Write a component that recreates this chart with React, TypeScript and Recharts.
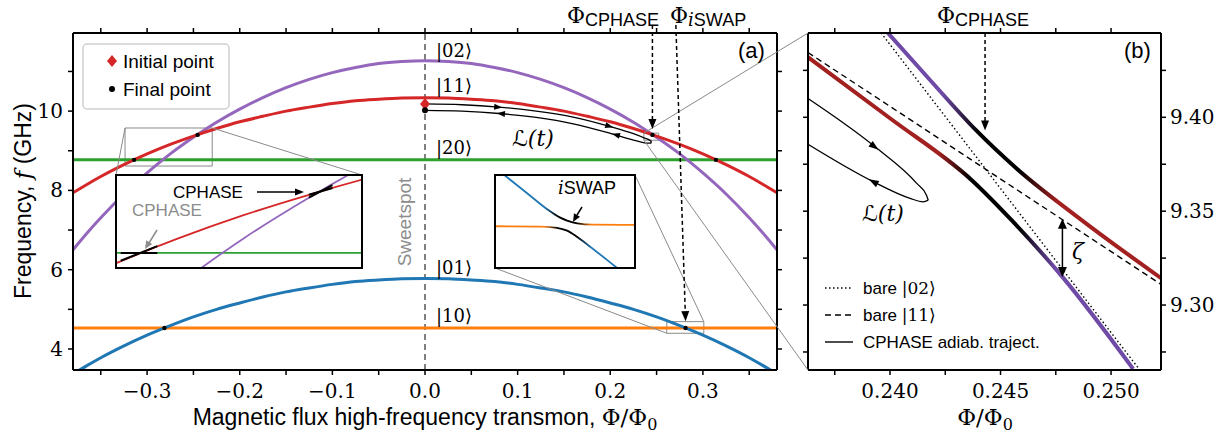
import React from 'react';
import { LineChart, Line, XAxis, YAxis, ReferenceLine, ReferenceArea, ReferenceDot } from 'recharts';

const SERIF = '"DejaVu Serif", "DejaVu Sans", serif';
const SANS = '"Liberation Sans", Arial, Helvetica, sans-serif';

const C = {
  red: '#d62728', purple: '#9467bd', green: '#2ca02c', blue: '#1f77b4', orange: '#ff7f0e',
  bRed: '#a32020', bPurple: '#6f4aa6', gray: '#8a8a8a',
};

// ---------- panel (a): levels vs flux (GHz) ----------
const flux = [-0.38, -0.365, -0.35, -0.325, -0.3, -0.275, -0.25, -0.225, -0.2, -0.175, -0.15, -0.125, -0.1, -0.075, -0.05, -0.025, 0,
  0.025, 0.05, 0.075, 0.1, 0.125, 0.15, 0.175, 0.2, 0.225, 0.25, 0.275, 0.3, 0.325, 0.35, 0.365, 0.38];
const level02 = [6.50, 6.92, 7.31, 7.91, 8.44, 8.92, 9.34, 9.72, 10.05, 10.34, 10.59, 10.80, 10.97, 11.10, 11.20, 11.25, 11.27,
  11.25, 11.20, 11.10, 10.97, 10.80, 10.59, 10.34, 10.05, 9.72, 9.34, 8.92, 8.44, 7.91, 7.31, 6.92, 6.50];
const level11 = [7.94, 8.15, 8.35, 8.65, 8.92, 9.16, 9.37, 9.56, 9.73, 9.87, 10.00, 10.10, 10.19, 10.26, 10.30, 10.33, 10.34,
  10.33, 10.30, 10.26, 10.19, 10.10, 10.00, 9.87, 9.73, 9.56, 9.37, 9.16, 8.92, 8.65, 8.35, 8.15, 7.94];
const level01 = [3.37, 3.58, 3.78, 4.08, 4.35, 4.59, 4.81, 5.00, 5.16, 5.31, 5.44, 5.54, 5.63, 5.70, 5.74, 5.77, 5.78,
  5.77, 5.74, 5.70, 5.63, 5.54, 5.44, 5.31, 5.16, 5.00, 4.81, 4.59, 4.35, 4.08, 3.78, 3.58, 3.37];
const fluxEnds = [-0.38, 0.38];
const level20 = [8.77, 8.77];
const level10 = [4.53, 4.53];

// trajectory L(t)
const trajOutFlux = [0, 0.04, 0.08, 0.12, 0.16, 0.2, 0.225, 0.237, 0.2435, 0.2445];
const trajOutFreq = [10.18, 10.16, 10.10, 10.00, 9.85, 9.61, 9.43, 9.32, 9.25, 9.215];
const trajBackFlux = [0, 0.04, 0.08, 0.12, 0.16, 0.2, 0.225, 0.237, 0.243, 0.2445];
const trajBackFreq = [10.02, 10.00, 9.94, 9.84, 9.68, 9.44, 9.27, 9.20, 9.19, 9.215];
const initialPoint = { x: 0, y: 10.18 };
const finalPoint = { x: 0, y: 10.02 };
const crossings = [
  { x: -0.2455, y: 9.40 }, { x: 0.2455, y: 9.40 }, { x: -0.314, y: 8.77 }, { x: 0.314, y: 8.77 },
  { x: -0.2813, y: 4.53 }, { x: 0.2813, y: 4.53 },
];

// left inset (CPHASE crossings, negative flux)
const insetLX = [-0.3238, -0.2297];
const insetLY = [8.615, 9.574];
const cphaseRedFlux = [-0.250, -0.241];
const cphaseRedFreq = [9.37, 9.44];
const cphasePurFlux = [-0.250, -0.241];
const cphasePurFreq = [9.34, 9.47];
const cphase2GreenFlux = [-0.322, -0.308];
const cphase2GreenFreq = [8.77, 8.77];
const cphase2RedFlux = [-0.322, -0.308];
const cphase2RedFreq = [8.69, 8.84];

// right inset (iSWAP avoided crossing)
const insetRX = [0.261, 0.301];
const insetRY = [4.396, 4.69];
const iswapUpFlux = [0.260, 0.270, 0.276, 0.2795, 0.2816, 0.2845, 0.289, 0.302];
const iswapUpFreq = [4.722, 4.634, 4.581, 4.556, 4.546, 4.537, 4.533, 4.532];
const iswapLowFlux = [0.260, 0.274, 0.2787, 0.2816, 0.2845, 0.288, 0.295, 0.302];
const iswapLowFreq = [4.528, 4.527, 4.523, 4.514, 4.494, 4.465, 4.404, 4.342];

// ---------- panel (b): zoom on CPHASE ----------
const bX = [0.23629, 0.25226];
const bY = [9.2654, 9.4449];
const upperFlux = [0.2399, 0.2418, 0.2439, 0.2457, 0.2487, 0.2523];
const upperFreq = [9.445, 9.420, 9.393, 9.373, 9.345, 9.314];
const lowerFlux = [0.23629, 0.2400, 0.2437, 0.2455, 0.2478, 0.2510];
const lowerFreq = [9.432, 9.3995, 9.3665, 9.3452, 9.315, 9.266];
const bare02Flux = [0.2396, 0.2513];
const bare02Freq = [9.4449, 9.2654];
const bare11Flux = [0.23629, 0.25226];
const bare11Freq = [9.4345, 9.311];
const loopOutFlux = [0.23629, 0.23932, 0.24121, 0.24165, 0.24173];
const loopOutFreq = [9.4100, 9.3843, 9.3648, 9.3585, 9.3559];
const loopBackFlux = [0.23629, 0.23924, 0.24091, 0.24150, 0.24173];
const loopBackFreq = [9.3856, 9.3657, 9.3568, 9.3550, 9.3559];

const fluxTicks = [-0.35, -0.3, -0.25, -0.2, -0.15, -0.1, -0.05, 0, 0.05, 0.1, 0.15, 0.2, 0.25, 0.3, 0.35];
const freqTicks = [4, 5, 6, 7, 8, 9, 10, 11];
const bFluxTicks = [0.2375, 0.24, 0.2425, 0.245, 0.2475, 0.25];
const bFreqTicks = [9.275, 9.3, 9.325, 9.35, 9.375, 9.4, 9.425];

const AX = [-0.38, 0.38];
const AY = [3.47, 11.97];

const pts = (xs: number[], ys: number[]) => xs.map((x, i) => ({ x, y: ys[i] }));

// pixel helpers for annotations (plot boxes of both panels)
const pxA = (x: number) => 73 + (x - AX[0]) / (AX[1] - AX[0]) * 704;
const pyA = (y: number) => 33 + (AY[1] - y) / (AY[1] - AY[0]) * 337;
const pxB = (x: number) => 808 + (x - bX[0]) / (bX[1] - bX[0]) * 353;
const pyB = (y: number) => 33 + (bY[1] - y) / (bY[1] - bY[0]) * 337;

const INL = { left: 116, top: 175, w: 246, h: 93 };
const INR = { left: 495, top: 175, w: 140, h: 93 };

const fmtFlux = (v: number) => {
  const r = Math.round(v * 100);
  if (r % 10 !== 0) return '';
  return (r < 0 ? '\u2212' : '') + Math.abs(v).toFixed(1);
};
const fmtFreq = (v: number) => (v % 2 === 0 ? String(v) : '');
const fmtB = (v: number) => (Math.round(v * 10000) % 50 === 0 ? v.toFixed(3) : '');
const fmtBF = (v: number) => (Math.round(v * 1000) % 50 === 0 ? v.toFixed(2) : '');
const blank = () => '';

const tickFont = { fill: '#000', fontSize: 20, fontFamily: SERIF };
const frame = { stroke: '#000', strokeWidth: 2 };
const tickLn = { stroke: '#000', strokeWidth: 1.5 };

function Head({ x, y, angle, len = 10, wid = 8, fill = '#000' }: any) {
  const a = (angle * Math.PI) / 180;
  const c = Math.cos(a);
  const s = Math.sin(a);
  const bx = x - len * c;
  const by = y - len * s;
  const p = `${x},${y} ${bx - (wid / 2) * s},${by + (wid / 2) * c} ${bx + (wid / 2) * s},${by - (wid / 2) * c}`;
  return <polygon points={p} fill={fill} />;
}

const midArrow = (angle: number, len = 8, wid = 6) => (p: any) => {
  const a = (angle * Math.PI) / 180;
  return <Head x={p.cx + (len / 2) * Math.cos(a)} y={p.cy + (len / 2) * Math.sin(a)} angle={angle} len={len} wid={wid} />;
};

const diamond = (p: any) => (
  <polygon points={`${p.cx},${p.cy - 6} ${p.cx + 5},${p.cy} ${p.cx},${p.cy + 6} ${p.cx - 5},${p.cy}`} fill={C.red} />
);

const line = (data: any, stroke: string, width: number, extra: any = {}) => (
  <Line data={data} dataKey="y" type="monotone" stroke={stroke} strokeWidth={width} dot={false} activeDot={false}
    isAnimationActive={false} {...extra} />
);

function MainPanel() {
  return (
    <LineChart width={800} height={436} margin={{ top: 23, right: 13, bottom: 26, left: 13 }}>
      <XAxis type="number" dataKey="x" domain={AX} allowDataOverflow ticks={fluxTicks} interval={0} tickFormatter={fmtFlux}
        tick={tickFont} tickSize={5} tickMargin={9} height={40} axisLine={frame} tickLine={tickLn} />
      <XAxis xAxisId="top" orientation="top" type="number" dataKey="x" domain={AX} allowDataOverflow ticks={fluxTicks}
        interval={0} tickFormatter={blank} tick={tickFont} tickSize={5} height={10} axisLine={frame} tickLine={tickLn} />
      <YAxis type="number" domain={AY} allowDataOverflow ticks={freqTicks} interval={0} tickFormatter={fmtFreq} tick={tickFont}
        tickSize={5} tickMargin={5} width={60} axisLine={frame} tickLine={tickLn} />
      <YAxis yAxisId="right" orientation="right" type="number" domain={AY} allowDataOverflow ticks={freqTicks} interval={0}
        tickFormatter={blank} tick={tickFont} tickSize={5} width={10} axisLine={frame} tickLine={tickLn} />
      <ReferenceLine x={0} stroke="#808080" strokeWidth={2} strokeDasharray="6 4" />
      {line(pts(fluxEnds, level20), C.green, 3)}
      {line(pts(fluxEnds, level10), C.orange, 3)}
      {line(pts(flux, level01), C.blue, 3)}
      {line(pts(flux, level02), C.purple, 3)}
      {line(pts(flux, level11), C.red, 3)}
      {crossings.map((c, i) => (
        <ReferenceDot key={i} x={c.x} y={c.y} r={2.2} fill="#000" stroke="none" />
      ))}
      {line(pts(trajOutFlux, trajOutFreq), '#000', 1.3)}
      {line(pts(trajBackFlux, trajBackFreq), '#000', 1.3)}
      <ReferenceDot x={0.079} y={10.10} r={1} shape={midArrow(5)} />
      <ReferenceDot x={0.199} y={9.62} r={1} shape={midArrow(15)} />
      <ReferenceDot x={0.082} y={9.935} r={1} shape={midArrow(185)} />
      <ReferenceDot x={0.206} y={9.40} r={1} shape={midArrow(195)} />
      <ReferenceDot x={initialPoint.x} y={initialPoint.y} r={6} shape={diamond} />
      <ReferenceDot x={finalPoint.x} y={finalPoint.y} r={3} fill="#000" stroke="none" />
      <ReferenceArea x1={insetLX[0]} x2={insetLX[1]} y1={insetLY[0]} y2={insetLY[1]} fill="none" stroke={C.gray} strokeWidth={1} />
      <ReferenceArea x1={insetRX[0]} x2={insetRX[1]} y1={insetRY[0]} y2={insetRY[1]} fill="none" stroke={C.gray} strokeWidth={1} />
      <ReferenceArea x1={bX[0]} x2={bX[1]} y1={bY[0]} y2={bY[1]} fill="none" stroke={C.gray} strokeWidth={1} />
    </LineChart>
  );
}

function InsetLeft() {
  return (
    <LineChart width={INL.w} height={INL.h} margin={{ top: 0, right: 0, bottom: 0, left: 0 }}>
      <XAxis hide type="number" dataKey="x" domain={insetLX} allowDataOverflow />
      <YAxis hide type="number" domain={insetLY} allowDataOverflow />
      {line(pts(fluxEnds, level20), C.green, 1.8)}
      {line(pts(flux, level02), C.purple, 1.8)}
      {line(pts(flux, level11), C.red, 1.8)}
      {line(pts(cphaseRedFlux, cphaseRedFreq), '#000', 2, { type: 'linear' })}
      {line(pts(cphasePurFlux, cphasePurFreq), '#000', 2, { type: 'linear' })}
      {line(pts(cphase2GreenFlux, cphase2GreenFreq), '#000', 2, { type: 'linear' })}
      {line(pts(cphase2RedFlux, cphase2RedFreq), '#000', 2, { type: 'linear' })}
    </LineChart>
  );
}

function InsetRight() {
  return (
    <LineChart width={INR.w} height={INR.h} margin={{ top: 0, right: 0, bottom: 0, left: 0 }}>
      <XAxis hide type="number" dataKey="x" domain={insetRX} allowDataOverflow />
      <YAxis hide type="number" domain={insetRY} allowDataOverflow />
      {line(pts(iswapUpFlux, iswapUpFreq), 'url(#gUpR)', 1.8)}
      {line(pts(iswapLowFlux, iswapLowFreq), 'url(#gLowR)', 1.8)}
    </LineChart>
  );
}

function ZoomPanel() {
  return (
    <LineChart width={431} height={436} margin={{ top: 23, right: 10, bottom: 26, left: 0 }}>
      <XAxis type="number" dataKey="x" domain={bX} allowDataOverflow ticks={bFluxTicks} interval={0} tickFormatter={fmtB}
        tick={tickFont} tickSize={5} tickMargin={9} height={40} axisLine={frame} tickLine={tickLn} />
      <XAxis xAxisId="top" orientation="top" type="number" dataKey="x" domain={bX} allowDataOverflow ticks={bFluxTicks}
        interval={0} tickFormatter={blank} tick={tickFont} tickSize={5} height={10} axisLine={frame} tickLine={tickLn} />
      <YAxis type="number" domain={bY} allowDataOverflow ticks={bFreqTicks} interval={0} tickFormatter={blank} tick={tickFont}
        tickSize={5} width={8} axisLine={frame} tickLine={tickLn} />
      <YAxis yAxisId="r" orientation="right" type="number" domain={bY} allowDataOverflow ticks={bFreqTicks} interval={0}
        tickFormatter={fmtBF} tick={tickFont} tickSize={5} tickMargin={4} width={60} axisLine={frame} tickLine={tickLn} />
      {line(pts(bare02Flux, bare02Freq), '#000', 1.4, { type: 'linear', strokeDasharray: '1.5 2.5' })}
      {line(pts(bare11Flux, bare11Freq), '#000', 1.4, { type: 'linear', strokeDasharray: '6 4' })}
      {line(pts(upperFlux, upperFreq), 'url(#gUpB)', 4)}
      {line(pts(lowerFlux, lowerFreq), 'url(#gLowB)', 4)}
      {line(pts(loopOutFlux, loopOutFreq), '#000', 1.3)}
      {line(pts(loopBackFlux, loopBackFreq), '#000', 1.3)}
      <ReferenceDot x={0.2393} y={9.3843} r={1} shape={midArrow(38, 10, 7)} />
      <ReferenceDot x={0.23924} y={9.3657} r={1} shape={midArrow(208, 10, 7)} />
    </LineChart>
  );
}

function Overlay() {
  const xc = pxA(0.2455);
  const ycTip = pyA(9.55);
  const xiTop = pxA(0.2708);
  const xiTip = pxA(0.2813);
  const yiTip = pyA(4.70);
  const iAng = (Math.atan2(yiTip - 24, xiTip - xiTop) * 180) / Math.PI;
  const xbC = pxB(0.2443);
  const ybTip = pyB(9.393);
  const xz = pxB(0.2478);
  const yz1 = pyB(9.346);
  const yz2 = pyB(9.315);
  const lx = pxA(0) + 11;
  return (
    <svg width={1231} height={436} style={{ position: 'absolute', left: 0, top: 0, pointerEvents: 'none' }}>
      {/* inset connectors */}
      <g stroke={C.gray} strokeWidth={1}>
        <line x1={pxA(insetLX[0])} y1={pyA(insetLY[1])} x2={INL.left} y2={INL.top} />
        <line x1={pxA(insetLX[1])} y1={pyA(insetLY[1])} x2={INL.left + INL.w} y2={INL.top} />
        <line x1={pxA(insetRX[0])} y1={pyA(insetRY[0])} x2={INR.left} y2={INR.top + INR.h} />
        <line x1={pxA(insetRX[1])} y1={pyA(insetRY[1])} x2={INR.left + INR.w} y2={INR.top} />
        <line x1={pxA(bX[0])} y1={pyA(bY[1])} x2={808} y2={33} />
        <line x1={pxA(bX[0])} y1={pyA(bY[0])} x2={808} y2={370} />
      </g>
      <rect x={INL.left} y={INL.top} width={INL.w} height={INL.h} fill="none" stroke="#000" strokeWidth={2} />
      <rect x={INR.left} y={INR.top} width={INR.w} height={INR.h} fill="none" stroke="#000" strokeWidth={2} />

      {/* legend (a) */}
      <rect x={83} y={44} width={146} height={65} rx={4} fill="#fff" fillOpacity={0.85} stroke="#cfcfcf" strokeWidth={1.5} />
      <polygon points="112,55 117,61 112,67 107,61" fill={C.red} />
      <circle cx={112} cy={89} r={3} fill="#000" />
      <text x={123} y={68} fontFamily={SANS} fontSize={19}>Initial point</text>
      <text x={123} y={96} fontFamily={SANS} fontSize={19}>Final point</text>

      {/* state labels */}
      <g fontFamily={SERIF} fontSize={18}>
        <text x={lx} y={57}>|02⟩</text>
        <text x={lx} y={92}>|11⟩</text>
        <text x={lx} y={154}>|20⟩</text>
        <text x={lx} y={274}>|01⟩</text>
        <text x={lx} y={322}>|10⟩</text>
      </g>
      <text transform="translate(411,222) rotate(-90)" textAnchor="middle" fontFamily={SANS} fontSize={19} fill="#8c8c8c">Sweetspot</text>
      <text x={512} y={146} fontFamily={SERIF} fontStyle="italic" fontSize={22}>ℒ(t)</text>
      <text x={738} y={58} fontFamily={SANS} fontSize={22}>(a)</text>
      <text x={1124} y={58} fontFamily={SANS} fontSize={22}>(b)</text>

      {/* flux markers */}
      <text x={567} y={23}><tspan fontFamily={SERIF} fontSize={22}>Φ</tspan><tspan fontFamily={SANS} fontSize={18} dy={3}>CPHASE</tspan></text>
      <text x={670} y={23}><tspan fontFamily={SERIF} fontSize={22}>Φ</tspan><tspan fontFamily={SERIF} fontStyle="italic" fontSize={18} dy={3}>i</tspan><tspan fontFamily={SANS} fontSize={18}>SWAP</tspan></text>
      <line x1={xc} y1={25} x2={xc} y2={ycTip - 8} stroke="#000" strokeWidth={1.5} strokeDasharray="4 3" />
      <Head x={xc} y={ycTip} angle={90} len={10} wid={8} />
      <line x1={xiTop} y1={25} x2={xiTip - 0.3} y2={yiTip - 9} stroke="#000" strokeWidth={1.5} strokeDasharray="4 3" />
      <Head x={xiTip} y={yiTip} angle={iAng} len={10} wid={8} />
      <text x={937} y={23}><tspan fontFamily={SERIF} fontSize={22}>Φ</tspan><tspan fontFamily={SANS} fontSize={18} dy={3}>CPHASE</tspan></text>
      <line x1={xbC} y1={33} x2={xbC} y2={ybTip - 8} stroke="#000" strokeWidth={1.5} strokeDasharray="4 3" />
      <Head x={xbC} y={ybTip} angle={90} len={10} wid={8} />

      {/* inset annotations */}
      <text x={173} y={198} fontFamily={SANS} fontSize={17}>CPHASE</text>
      <line x1={257} y1={192} x2={296} y2={192} stroke="#000" strokeWidth={1.5} />
      <Head x={304} y={192} angle={0} len={9} wid={7} />
      <text x={132} y={216} fontFamily={SANS} fontSize={17} fill="#8c8c8c">CPHASE</text>
      <line x1={157} y1={230} x2={149} y2={243} stroke="#8c8c8c" strokeWidth={1.5} />
      <Head x={145} y={249} angle={122} len={8} wid={7} fill="#8c8c8c" />
      <text x={558} y={194}><tspan fontFamily={SERIF} fontStyle="italic" fontSize={18}>i</tspan><tspan fontFamily={SANS} fontSize={18}>SWAP</tspan></text>
      <line x1={582} y1={207} x2={577} y2={215} stroke="#000" strokeWidth={1.5} />
      <Head x={573} y={222} angle={120} len={8} wid={7} />

      {/* panel (b) annotations */}
      <text x={862} y={221} fontFamily={SERIF} fontStyle="italic" fontSize={22}>ℒ(t)</text>
      <line x1={xz} y1={yz1 + 9} x2={xz} y2={yz2 - 9} stroke="#000" strokeWidth={1.5} />
      <Head x={xz} y={yz1} angle={-90} len={10} wid={9} />
      <Head x={xz} y={yz2} angle={90} len={10} wid={9} />
      <text x={1072} y={259} fontFamily={SERIF} fontStyle="italic" fontSize={22}>ζ</text>
      <line x1={825} y1={288} x2={853} y2={288} stroke="#000" strokeWidth={1.4} strokeDasharray="1.5 2.5" />
      <line x1={825} y1={315} x2={853} y2={315} stroke="#000" strokeWidth={1.4} strokeDasharray="6 4" />
      <line x1={825} y1={342} x2={853} y2={342} stroke="#000" strokeWidth={1.4} />
      <text x={863} y={294}><tspan fontFamily={SANS} fontSize={17}>bare </tspan><tspan fontFamily={SERIF} fontSize={17}>|02⟩</tspan></text>
      <text x={863} y={321}><tspan fontFamily={SANS} fontSize={17}>bare </tspan><tspan fontFamily={SERIF} fontSize={17}>|11⟩</tspan></text>
      <text x={863} y={348} fontFamily={SANS} fontSize={17}>CPHASE adiab. traject.</text>

      {/* axis titles */}
      <text x={425} y={425} textAnchor="middle">
        <tspan fontFamily={SANS} fontSize={23}>Magnetic flux high-frequency transmon, </tspan>
        <tspan fontFamily={SERIF} fontSize={23}>Φ/Φ</tspan>
        <tspan fontFamily={SERIF} fontSize={16} dy={5}>0</tspan>
      </text>
      <text x={985} y={425} textAnchor="middle">
        <tspan fontFamily={SERIF} fontSize={23}>Φ/Φ</tspan>
        <tspan fontFamily={SERIF} fontSize={16} dy={5}>0</tspan>
      </text>
      <text transform="translate(31,201) rotate(-90)" textAnchor="middle">
        <tspan fontFamily={SANS} fontSize={23}>Frequency, </tspan>
        <tspan fontFamily={SERIF} fontStyle="italic" fontSize={23}>f</tspan>
        <tspan fontFamily={SANS} fontSize={23}> (GHz)</tspan>
      </text>
    </svg>
  );
}

export default function App() {
  return (
    <div style={{ position: 'absolute', left: 0, top: 0, width: 1231, height: 436, background: '#fff', overflow: 'hidden' }}>
      <svg width={0} height={0} style={{ position: 'absolute' }}>
        <defs>
          <linearGradient id="gUpB" x1="0" y1="0" x2="1" y2="0">
            <stop offset="0" stopColor={C.bPurple} />
            <stop offset="0.2" stopColor={C.bPurple} />
            <stop offset="0.33" stopColor="#000" />
            <stop offset="0.48" stopColor="#000" />
            <stop offset="0.62" stopColor={C.bRed} />
            <stop offset="1" stopColor={C.bRed} />
          </linearGradient>
          <linearGradient id="gLowB" x1="0" y1="0" x2="1" y2="0">
            <stop offset="0" stopColor={C.bRed} />
            <stop offset="0.4" stopColor={C.bRed} />
            <stop offset="0.5" stopColor="#000" />
            <stop offset="0.65" stopColor="#000" />
            <stop offset="0.76" stopColor={C.bPurple} />
            <stop offset="1" stopColor={C.bPurple} />
          </linearGradient>
          <linearGradient id="gUpR" x1="0" y1="0" x2="1" y2="0">
            <stop offset="0" stopColor={C.blue} />
            <stop offset="0.36" stopColor={C.blue} />
            <stop offset="0.45" stopColor="#000" />
            <stop offset="0.58" stopColor="#000" />
            <stop offset="0.68" stopColor={C.orange} />
            <stop offset="1" stopColor={C.orange} />
          </linearGradient>
          <linearGradient id="gLowR" x1="0" y1="0" x2="1" y2="0">
            <stop offset="0" stopColor={C.orange} />
            <stop offset="0.36" stopColor={C.orange} />
            <stop offset="0.45" stopColor="#000" />
            <stop offset="0.58" stopColor="#000" />
            <stop offset="0.68" stopColor={C.blue} />
            <stop offset="1" stopColor={C.blue} />
          </linearGradient>
        </defs>
      </svg>
      <div style={{ position: 'absolute', left: 0, top: 0 }}><MainPanel /></div>
      <div style={{ position: 'absolute', left: 800, top: 0 }}><ZoomPanel /></div>
      <div style={{ position: 'absolute', left: INL.left, top: INL.top, background: '#fff' }}><InsetLeft /></div>
      <div style={{ position: 'absolute', left: INR.left, top: INR.top, background: '#fff' }}><InsetRight /></div>
      <Overlay />
    </div>
  );
}
